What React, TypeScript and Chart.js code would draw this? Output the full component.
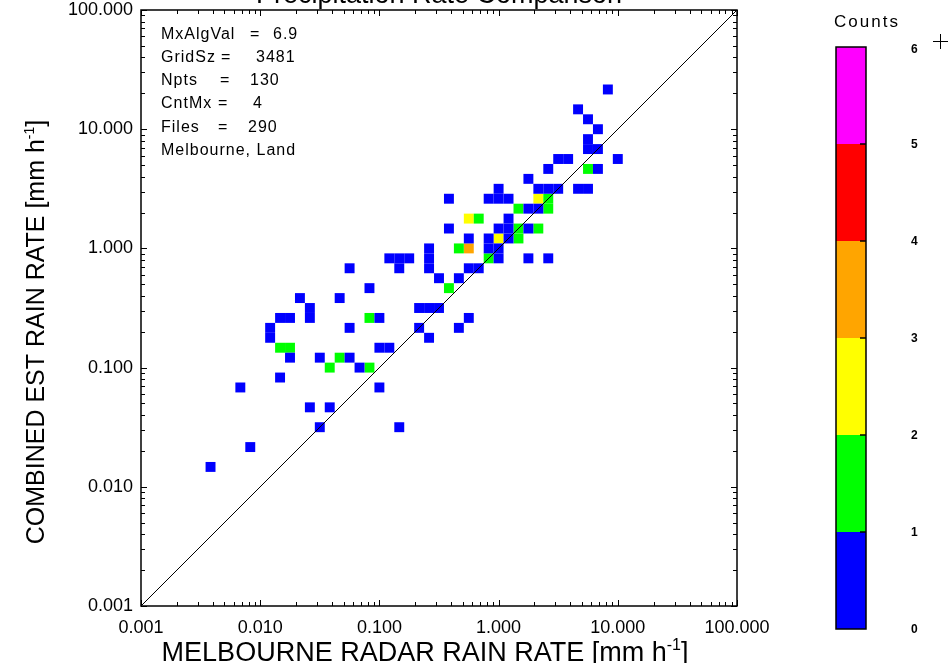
import { useEffect, useRef } from 'react';
import { Chart, registerables } from 'chart.js';

Chart.register(...registerables);

// ---------- text ----------
const CHART_TITLE = 'Precipitation Rate Comparison';
const X_AXIS_TITLE = 'MELBOURNE RADAR RAIN RATE [mm h';
const Y_AXIS_TITLE = 'COMBINED EST RAIN RATE [mm h';
const UNIT_EXPONENT = '-1';
const UNIT_CLOSE = ']';

// ---------- axes ----------
const AXIS_MIN = 0.001;
const AXIS_MAX = 100;
const DECADE_TICK_LABELS = ['0.001', '0.010', '0.100', '1.000', '10.000', '100.000'];

// ---------- histogram grid (bins of 1/12 decade, bin j centred at 10^(-3 + j/12)) ----------
const BINS_PER_DECADE = 12;
const BIN_ORIGIN_LOG = -3;

// bin index along x (radar rate)
const cellX = [
  7,
  11,
  18, 26,
  17, 19,
  10, 24,
  14,
  19, 22, 23,
  15, 18, 20, 21,
  14, 15, 24, 25,
  13, 29,
  13, 21, 28, 32,
  14, 15, 17, 23, 24, 33,
  17, 28, 29, 30,
  16, 20,
  23, 31,
  30, 32,
  21, 26, 29, 33, 34,
  25, 26, 27, 29, 35, 36, 39, 41,
  29, 32, 33, 35, 36,
  33, 35, 36, 37, 38,
  31, 36, 37, 38, 39, 40,
  33, 34, 37,
  38, 39, 40, 41,
  31, 35, 36, 37, 40, 41,
  36, 40, 41, 42, 44, 45,
  39,
  41, 45, 46,
  42, 43, 48,
  45, 46,
  45,
  46,
  45,
  44,
  47,
];
// bin index along y (combined estimate)
const cellY = [
  14,
  16,
  18, 18,
  20, 20,
  22, 22,
  23,
  24, 24, 24,
  25, 25, 25, 25,
  26, 26, 26, 26,
  27, 27,
  28, 28, 28, 28,
  29, 29, 29, 29, 29, 29,
  30, 30, 30, 30,
  31, 31,
  32, 32,
  33, 33,
  34, 34, 34, 34, 34,
  35, 35, 35, 35, 35, 35, 35, 35,
  36, 36, 36, 36, 36,
  37, 37, 37, 37, 37,
  38, 38, 38, 38, 38, 38,
  39, 39, 39,
  40, 40, 40, 40,
  41, 41, 41, 41, 41, 41,
  42, 42, 42, 42, 42, 42,
  43,
  44, 44, 44,
  45, 45, 45,
  46, 46,
  47,
  48,
  49,
  50,
  52,
];
// counts per bin
const cellCount = [
  1,
  1,
  1, 1,
  1, 1,
  1, 1,
  1,
  2, 1, 2,
  1, 1, 2, 1,
  2, 2, 1, 1,
  1, 1,
  1, 1, 1, 1,
  1, 1, 1, 2, 1, 1,
  1, 1, 1, 1,
  1, 1,
  1, 2,
  1, 1,
  1, 1, 1, 1, 1,
  1, 1, 1, 1, 2, 1, 1, 1,
  1, 2, 4, 1, 1,
  1, 1, 3, 1, 2,
  1, 1, 1, 2, 1, 2,
  3, 2, 1,
  2, 1, 1, 2,
  1, 1, 1, 1, 3, 2,
  1, 1, 1, 1, 1, 1,
  1,
  1, 2, 1,
  1, 1, 1,
  1, 1,
  1,
  1,
  1,
  1,
  1,
];

// ---------- annotation ----------
const STAT_NAMES = ['MxAlgVal', 'GridSz', 'Npts', 'CntMx', 'Files'];
const STAT_VALUES = ['6.9', '3481', '130', '4', '290'];
const SITE_LABEL = 'Melbourne, Land';

// ---------- colour bar ----------
const COLORBAR_TITLE = 'Counts';
const COLORBAR_LABELS = ['0', '1', '2', '3', '4', '5', '6'];
const COLORBAR_COLORS = ['#0000ff', '#00ff00', '#ffff00', '#ffa500', '#ff0000', '#ff00ff'];

// ---------- layout (pixels) ----------
const W = 952;
const H = 663;
const PLOT_LEFT = 141;
const PLOT_TOP = 10;
const PLOT_RIGHT = 737;
const PLOT_BOTTOM = 606;
const FONT = '"Liberation Sans", Arial, sans-serif';

const binValue = (j: number) => Math.pow(10, BIN_ORIGIN_LOG + j / BINS_PER_DECADE);

const isDecade = (v: number) => {
  const l = Math.log10(v);
  return Math.abs(l - Math.round(l)) < 1e-6;
};

const buildLogTicks = () => {
  const ticks: { value: number; major: boolean }[] = [];
  const e0 = Math.round(Math.log10(AXIS_MIN));
  const e1 = Math.round(Math.log10(AXIS_MAX));
  for (let e = e0; e < e1; e++) {
    for (let m = 1; m <= 9; m++) {
      ticks.push({ value: Number((m * Math.pow(10, e)).toPrecision(8)), major: m === 1 });
    }
  }
  ticks.push({ value: AXIS_MAX, major: true });
  return ticks;
};

const tickLabel = (value: number) => {
  if (!isDecade(value)) return '';
  const k = Math.round(Math.log10(value)) - Math.round(Math.log10(AXIS_MIN));
  return DECADE_TICK_LABELS[k] ?? '';
};

function drawUnitText(ctx: CanvasRenderingContext2D, main: string, cx: number, baseline: number, size: number) {
  const supSize = Math.round(size * 0.58);
  ctx.font = `${size}px ${FONT}`;
  const w1 = ctx.measureText(main).width;
  const w3 = ctx.measureText(UNIT_CLOSE).width;
  ctx.font = `${supSize}px ${FONT}`;
  const w2 = ctx.measureText(UNIT_EXPONENT).width;
  const x0 = cx - (w1 + w2 + w3) / 2;
  ctx.textAlign = 'left';
  ctx.textBaseline = 'alphabetic';
  ctx.font = `${size}px ${FONT}`;
  ctx.fillText(main, x0, baseline);
  ctx.font = `${supSize}px ${FONT}`;
  ctx.fillText(UNIT_EXPONENT, x0 + w1, baseline - size * 0.42);
  ctx.font = `${size}px ${FONT}`;
  ctx.fillText(UNIT_CLOSE, x0 + w1 + w2, baseline);
}

const decorPlugin = {
  id: 'decor',
  afterDatasetsDraw(chart: any) {
    const { ctx, chartArea: a, scales } = chart;
    const xs = scales.x;
    const ys = scales.y;
    const MAJOR = 6;
    const MINOR = 4;
    ctx.save();
    ctx.strokeStyle = '#000';
    ctx.lineWidth = 1;
    ctx.beginPath();
    for (const t of xs.ticks) {
      const len = isDecade(t.value) ? MAJOR : MINOR;
      const px = Math.round(xs.getPixelForValue(t.value)) + 0.5;
      ctx.moveTo(px, a.bottom);
      ctx.lineTo(px, a.bottom - len);
      ctx.moveTo(px, a.top);
      ctx.lineTo(px, a.top + len);
    }
    for (const t of ys.ticks) {
      const len = isDecade(t.value) ? MAJOR : MINOR;
      const py = Math.round(ys.getPixelForValue(t.value)) + 0.5;
      ctx.moveTo(a.left, py);
      ctx.lineTo(a.left + len, py);
      ctx.moveTo(a.right, py);
      ctx.lineTo(a.right - len, py);
    }
    ctx.stroke();
    ctx.lineWidth = 1.5;
    ctx.strokeRect(a.left, a.top, a.right - a.left, a.bottom - a.top);
    ctx.restore();
  },
  afterDraw(chart: any) {
    const { ctx, chartArea: a } = chart;
    ctx.save();
    ctx.fillStyle = '#000';

    // title (partly above the page edge, as in the reference)
    ctx.font = `27px ${FONT}`;
    ctx.textAlign = 'center';
    ctx.textBaseline = 'alphabetic';
    ctx.fillText(CHART_TITLE, (a.left + a.right) / 2, 3);

    // axis titles
    drawUnitText(ctx, X_AXIS_TITLE, 425, 661, 27);
    ctx.save();
    ctx.translate(44, 332);
    ctx.rotate(-Math.PI / 2);
    drawUnitText(ctx, Y_AXIS_TITLE, 0, 0, 25);
    ctx.restore();

    // annotation block
    ctx.font = `16px ${FONT}`;
    (ctx as any).letterSpacing = '1px';
    ctx.textAlign = 'left';
    const eqX = [250, 221, 220, 218, 218];
    const valX = [273, 256, 250, 253, 248];
    const base0 = 38.5;
    const step = 23.3;
    STAT_NAMES.forEach((name, i) => {
      const y = base0 + i * step;
      ctx.fillText(name, 161, y);
      ctx.fillText('=', eqX[i], y);
      ctx.fillText(STAT_VALUES[i], valX[i], y);
    });
    ctx.fillText(SITE_LABEL, 161, base0 + STAT_NAMES.length * step);
    (ctx as any).letterSpacing = '0px';

    // colour bar
    const cbL = 836;
    const cbR = 866;
    const cbT = 47;
    const cbB = 629;
    const n = COLORBAR_COLORS.length;
    const seg = (cbB - cbT) / n;
    COLORBAR_COLORS.forEach((c, i) => {
      ctx.fillStyle = c;
      ctx.fillRect(cbL, cbB - (i + 1) * seg, cbR - cbL, seg);
    });
    ctx.strokeStyle = '#000';
    ctx.lineWidth = 1.5;
    ctx.strokeRect(cbL, cbT, cbR - cbL, cbB - cbT);
    ctx.beginPath();
    for (let i = 1; i < n; i++) {
      const y = cbB - i * seg;
      ctx.moveTo(cbR, y);
      ctx.lineTo(cbR - 6, y);
    }
    ctx.stroke();

    ctx.fillStyle = '#000';
    ctx.font = `bold 12px ${FONT}`;
    ctx.textAlign = 'left';
    ctx.textBaseline = 'middle';
    COLORBAR_LABELS.forEach((lab, i) => {
      const y = cbB - i * seg + (i === n ? 3 : 1);
      ctx.fillText(lab, 911, y);
    });

    ctx.font = `17px ${FONT}`;
    (ctx as any).letterSpacing = '2px';
    ctx.textAlign = 'center';
    ctx.textBaseline = 'alphabetic';
    ctx.fillText(COLORBAR_TITLE, 867, 27);
    (ctx as any).letterSpacing = '0px';

    // plus marker
    ctx.lineWidth = 1;
    ctx.beginPath();
    ctx.moveTo(933, 41.5);
    ctx.lineTo(948, 41.5);
    ctx.moveTo(940.5, 34);
    ctx.lineTo(940.5, 49);
    ctx.stroke();

    ctx.restore();
  },
};

export default function App() {
  const canvasRef = useRef<HTMLCanvasElement | null>(null);

  useEffect(() => {
    const canvas = canvasRef.current;
    if (!canvas) return;

    const cellRadius = (c: any) => {
      const xs = c.chart.scales.x;
      if (!xs) return 5;
      const side = Math.abs(xs.getPixelForValue(binValue(1)) - xs.getPixelForValue(binValue(0)));
      return side / Math.SQRT2;
    };

    const levels = [1, 2, 3, 4, 5, 6];
    const cellSets = levels
      .map((lvl) => {
        const pts: { x: number; y: number }[] = [];
        cellCount.forEach((cnt, i) => {
          if (cnt === lvl) pts.push({ x: binValue(cellX[i]), y: binValue(cellY[i]) });
        });
        return {
          type: 'scatter' as const,
          label: `count ${lvl}`,
          data: pts,
          pointStyle: 'rect',
          pointRadius: cellRadius,
          pointBorderWidth: 0,
          borderWidth: 0,
          backgroundColor: COLORBAR_COLORS[lvl - 1],
          pointBackgroundColor: COLORBAR_COLORS[lvl - 1],
          borderColor: COLORBAR_COLORS[lvl - 1],
          showLine: false,
        };
      })
      .filter((d) => d.data.length > 0);

    const oneToOne = {
      type: 'line' as const,
      label: '1:1',
      data: [
        { x: AXIS_MIN, y: AXIS_MIN },
        { x: AXIS_MAX, y: AXIS_MAX },
      ],
      borderColor: '#000',
      borderWidth: 1,
      pointRadius: 0,
      showLine: true,
      fill: false,
    };

    const chart = new Chart(canvas, {
      type: 'scatter',
      data: { datasets: [oneToOne as any, ...(cellSets as any[])] },
      options: {
        responsive: false,
        animation: false,
        devicePixelRatio: 1,
        events: [],
        layout: {
          padding: { left: 0, top: PLOT_TOP, right: W - PLOT_RIGHT, bottom: 0 },
        },
        plugins: {
          legend: { display: false },
          tooltip: { enabled: false },
          title: { display: false },
        },
        scales: {
          x: {
            type: 'logarithmic',
            position: 'bottom',
            min: AXIS_MIN,
            max: AXIS_MAX,
            grid: { display: true, color: 'rgba(0,0,0,0)', drawOnChartArea: false, drawTicks: true, tickLength: 13 },
            border: { display: false },
            ticks: {
              autoSkip: false,
              maxRotation: 0,
              minRotation: 0,
              padding: 0,
              color: '#000',
              font: { family: FONT, size: 18, lineHeight: 1 },
              callback: (v: any) => tickLabel(Number(v)),
            },
            afterBuildTicks: (s: any) => {
              s.ticks = buildLogTicks();
            },
            afterFit: (s: any) => {
              s.height = H - PLOT_BOTTOM;
            },
          },
          y: {
            type: 'logarithmic',
            position: 'left',
            min: AXIS_MIN,
            max: AXIS_MAX,
            grid: { display: true, color: 'rgba(0,0,0,0)', drawOnChartArea: false, drawTicks: true, tickLength: 8 },
            border: { display: false },
            ticks: {
              autoSkip: false,
              padding: 0,
              color: '#000',
              font: { family: FONT, size: 18, lineHeight: 1 },
              callback: (v: any) => tickLabel(Number(v)),
            },
            afterBuildTicks: (s: any) => {
              s.ticks = buildLogTicks();
            },
            afterFit: (s: any) => {
              s.width = PLOT_LEFT;
            },
          },
        },
      } as any,
      plugins: [decorPlugin],
    });

    return () => {
      chart.destroy();
    };
  }, []);

  return (
    <div style={{ position: 'fixed', left: 0, top: 0, width: W, height: H, background: '#fff' }}>
      <canvas ref={canvasRef} width={W} height={H} style={{ display: 'block' }} />
    </div>
  );
}
